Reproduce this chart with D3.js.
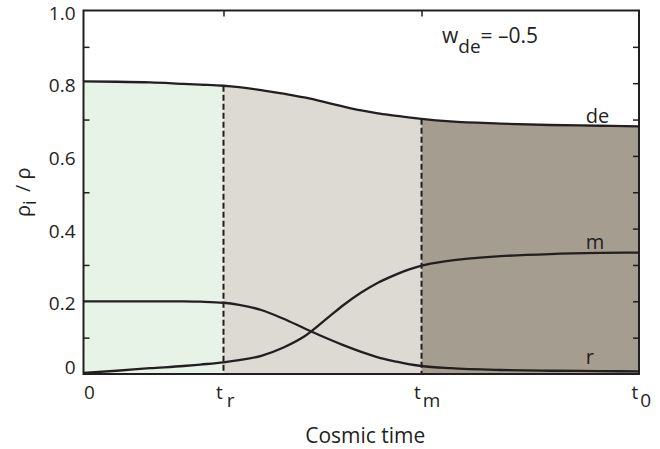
<!DOCTYPE html>
<html lang="en">
  <head>
    <meta charset="UTF-8" />
    <title>Density fractions vs cosmic time</title>
    <script src="https://d3js.org/d3.v7.min.js"></script>
    <style>
      body { margin: 0; background: #fff; }
      text { font-family: "Open Sans", sans-serif; fill: #231f20; }
    </style>
  </head>

  <body>
    <svg width="660" height="449"></svg>

    <script>
      // time axis (fraction of t0)
      const times = [0, 0.06, 0.12, 0.18, 0.21, 0.252, 0.28, 0.32, 0.36, 0.40, 0.44, 0.47,
                     0.50, 0.53, 0.56, 0.585, 0.6085, 0.66, 0.75, 0.84, 0.93, 1.0];
      const rad = [0.200, 0.200, 0.200, 0.200, 0.199, 0.196, 0.190, 0.176, 0.152, 0.124, 0.097, 0.078,
                   0.061, 0.046, 0.035, 0.027, 0.022, 0.016, 0.011, 0.009, 0.008, 0.007];
      const matter = [0.003, 0.009, 0.016, 0.022, 0.026, 0.032, 0.038, 0.050, 0.073, 0.106, 0.155, 0.192,
                      0.224, 0.251, 0.272, 0.287, 0.298, 0.312, 0.324, 0.330, 0.333, 0.334];
      const darkE = [0.805, 0.804, 0.802, 0.798, 0.796, 0.793, 0.789, 0.781, 0.771, 0.760, 0.746, 0.735,
                     0.725, 0.717, 0.711, 0.706, 0.702, 0.695, 0.689, 0.685, 0.683, 0.681];

      // era boundaries and labels
      const tR = 0.252, tM = 0.6085, t0 = 1.0;
      const xTicks = [0, tR, tM, t0];
      const xTickNames = [["0", ""], ["t", "r"], ["t", "m"], ["t", "0"]];
      const yTicks = [0, 0.2, 0.4, 0.6, 0.8, 1.0];
      const yMinor = [0.1, 0.3, 0.5, 0.7, 0.9];
      const yAll = [0.1, 0.2, 0.3, 0.4, 0.5, 0.6, 0.7, 0.8, 0.9];
      const eras = [[0, tR, "#e8f3e8"], [tR, tM, "#dddad3"], [tM, t0, "#a59d90"]];
      const curveNames = ["de", "m", "r"];

      const ink = "#231f20";
      const svg = d3.select("svg");
      const x = d3.scaleLinear().domain([0, 1]).range([83.5, 639]);
      const y = d3.scaleLinear().domain([0, 1]).range([374, 10.5]);

      const rows = times.map((t, i) => ({ t: t, r: rad[i], m: matter[i], de: darkE[i] }));

      // shaded eras under the dark-energy curve
      const area = d3.area()
        .x(d => x(d.t))
        .y0(y(0))
        .y1(d => y(d.de))
        .curve(d3.curveMonotoneX);

      eras.forEach(e => {
        svg.append("path")
          .datum(rows.filter(d => d.t >= e[0] && d.t <= e[1]))
          .attr("d", area)
          .attr("fill", e[2]);
      });

      // era dividers
      [tR, tM].forEach(t => {
        const row = rows.find(d => d.t === t);
        svg.append("line")
          .attr("x1", x(t)).attr("x2", x(t))
          .attr("y1", y(row.de)).attr("y2", y(0))
          .attr("stroke", ink)
          .attr("stroke-width", 2)
          .attr("stroke-dasharray", "6,3");
      });

      // curves
      ["de", "m", "r"].forEach(k => {
        svg.append("path")
          .datum(rows)
          .attr("d", d3.line().x(d => x(d.t)).y(d => y(d[k])).curve(d3.curveMonotoneX))
          .attr("fill", "none")
          .attr("stroke", ink)
          .attr("stroke-width", 2.3);
      });

      // frame
      svg.append("rect")
        .attr("x", x(0)).attr("y", y(1))
        .attr("width", x(1) - x(0)).attr("height", y(0) - y(1))
        .attr("fill", "none")
        .attr("stroke", ink)
        .attr("stroke-width", 2);

      // inside ticks
      function ticksOnly(g) {
        g.select(".domain").remove();
        g.selectAll("text").remove();
        g.selectAll("line").attr("stroke", ink).attr("stroke-width", 1.5);
      }
      svg.append("g").attr("transform", `translate(${x(0)},0)`)
        .call(d3.axisLeft(y).tickValues(yMinor).tickSize(-6)).call(ticksOnly);
      svg.append("g").attr("transform", `translate(${x(1)},0)`)
        .call(d3.axisRight(y).tickValues(yAll).tickSize(-6)).call(ticksOnly);
      svg.append("g").attr("transform", `translate(0,${y(1)})`)
        .call(d3.axisTop(x).tickValues([tR, tM]).tickSize(-6)).call(ticksOnly);

      // y tick labels
      const yAxis = svg.append("g").attr("transform", `translate(${x(0)},0)`)
        .call(d3.axisLeft(y).tickValues(yTicks).tickSize(0).tickPadding(8)
          .tickFormat(d => d === 0 ? "0" : d3.format(".1f")(d)));
      yAxis.select(".domain").remove();
      yAxis.selectAll("text")
        .attr("font-size", 19)
        .attr("font-family", "Open Sans")
        .attr("fill", ink)
        .attr("dy", d => d === 0 ? "-0.05em" : "0.45em");

      // x tick labels with subscripts
      const xAxis = svg.append("g").attr("transform", `translate(0,${y(0)})`)
        .call(d3.axisBottom(x).tickValues(xTicks).tickSize(0).tickFormat(""));
      xAxis.select(".domain").remove();
      xAxis.selectAll(".tick").each(function (d, i) {
        const t = d3.select(this).select("text")
          .attr("font-size", 19)
          .attr("font-family", "Open Sans")
          .attr("fill", ink)
          .attr("text-anchor", "start")
          .attr("x", i === 0 ? 0 : -8)
          .attr("y", 25)
          .attr("dy", 0);
        t.append("tspan").text(xTickNames[i][0]);
        if (xTickNames[i][1]) {
          t.append("tspan").attr("dx", i === 1 ? 4 : 2).attr("dy", 8).text(xTickNames[i][1]);
        }
      });

      // axis titles
      svg.append("text")
        .attr("x", (x(0) + x(1)) / 2 + 4)
        .attr("y", 443)
        .attr("text-anchor", "middle")
        .attr("font-size", 21)
        .text("Cosmic time");

      const yl = svg.append("text")
        .attr("transform", `translate(30,${(y(0) + y(1)) / 2}) rotate(-90)`)
        .attr("text-anchor", "middle")
        .attr("font-size", 20);
      yl.append("tspan").text("ρ");
      yl.append("tspan").attr("dy", 6).attr("font-size", 18).text("i");
      yl.append("tspan").attr("dy", -6).text("\u2009 / ρ");

      // w_de annotation
      const ann = svg.append("text").attr("x", 442).attr("y", 43).attr("font-size", 21);
      ann.append("tspan").text("w");
      ann.append("tspan").attr("dy", 10).attr("font-size", 19).text("de");
      ann.append("tspan").attr("dy", -10).text("= \u20130.5");

      // curve labels
      const labelPos = [[0.904, 0.69], [0.904, 0.345], [0.904, 0.028]];
      curveNames.forEach((n, i) => {
        svg.append("text")
          .attr("x", x(labelPos[i][0]))
          .attr("y", y(labelPos[i][1]))
          .attr("font-size", 20)
          .text(n);
      });
    </script>
  </body>
</html>
